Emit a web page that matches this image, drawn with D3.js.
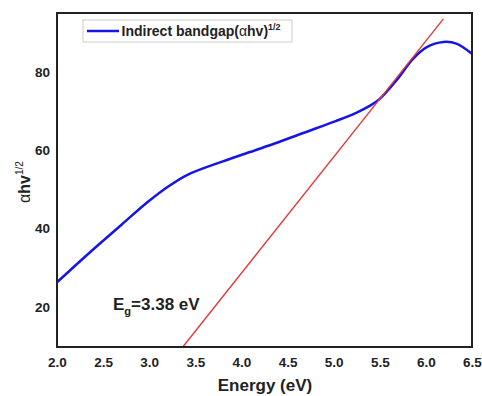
<!DOCTYPE html>
<html><head><meta charset="utf-8">
<script src="https://cdn.jsdelivr.net/npm/d3@7"></script>
<style>body{margin:0;background:#fff}svg{display:block}text{font-family:Arial,"Liberation Sans",sans-serif}</style>
</head><body><div id="c"></div>
<script>
const energy = [2.0, 2.34, 2.70, 2.99, 3.21, 3.42, 3.79, 4.15, 4.36, 4.67, 5.03, 5.25, 5.39, 5.50, 5.68, 5.86, 6.01, 6.19, 6.33, 6.5];
const alphaHv = [26.3, 33.6, 41.0, 46.9, 50.8, 53.8, 57.1, 60.0, 61.7, 64.4, 67.5, 69.6, 71.3, 73.1, 77.8, 83.3, 86.3, 87.6, 87.2, 84.6];
const fitLine = [[3.37, 10], [6.19, 93.5]];
const xTicks = [2.0, 2.5, 3.0, 3.5, 4.0, 4.5, 5.0, 5.5, 6.0, 6.5];
const yTicks = [20, 40, 60, 80];

const W = 482, H = 396;
const m = {l: 57, r: 10, t: 13, b: 49};
const svg = d3.select("#c").append("svg").attr("width", W).attr("height", H);
const x = d3.scaleLinear().domain([2.0, 6.5]).range([m.l, W - m.r]);
const y = d3.scaleLinear().domain([9.8, 95]).range([H - m.b, m.t]);

svg.append("defs").append("clipPath").attr("id", "clip")
  .append("rect").attr("x", m.l).attr("y", m.t).attr("width", W - m.r - m.l).attr("height", H - m.b - m.t);

const xa = svg.append("g").attr("transform", `translate(0,${H - m.b})`)
  .call(d3.axisBottom(x).tickValues(xTicks).tickFormat(d3.format(".1f")).tickSize(0).tickPadding(10));
const ya = svg.append("g").attr("transform", `translate(${m.l},0)`)
  .call(d3.axisLeft(y).tickValues(yTicks).tickSize(0).tickPadding(7));
[xa, ya].forEach(g => {
  g.select(".domain").remove();
  g.selectAll("text").attr("font-size", 13.5).attr("font-weight", "bold").attr("fill", "#222")
   .attr("font-family", "Arial, 'Liberation Sans', sans-serif");
});

const g = svg.append("g").attr("clip-path", "url(#clip)");
const data = energy.map((e, i) => [e, alphaHv[i]]);
g.append("path").datum(data)
  .attr("d", d3.line().x(d => x(d[0])).y(d => y(d[1])).curve(d3.curveCatmullRom.alpha(0.5)))
  .attr("fill", "none").attr("stroke", "#1515e6").attr("stroke-width", 2.5);
g.append("path").datum(fitLine)
  .attr("d", d3.line().x(d => x(d[0])).y(d => y(d[1])))
  .attr("fill", "none").attr("stroke", "#e23a3a").attr("stroke-width", 1.4);

svg.append("rect").attr("x", m.l).attr("y", m.t).attr("width", W - m.r - m.l).attr("height", H - m.b - m.t)
  .attr("fill", "none").attr("stroke", "#222").attr("stroke-width", 2);

svg.append("rect").attr("x", 83).attr("y", 20).attr("width", 209).attr("height", 22)
  .attr("fill", "#fff").attr("stroke", "#ccc").attr("stroke-width", 1);
svg.append("line").attr("x1", 87).attr("x2", 119).attr("y1", 31).attr("y2", 31)
  .attr("stroke", "#1515e6").attr("stroke-width", 2.5);
const lt = svg.append("text").attr("x", 121.5).attr("y", 36).attr("font-size", 14).attr("font-weight", "bold").attr("fill", "#222");
lt.append("tspan").text("Indirect bandgap(");
lt.append("tspan").attr("font-weight", "normal").text("α");
lt.append("tspan").text("hv)");
lt.append("tspan").attr("font-size", 9).attr("dy", -6).text("1/2");

const an = svg.append("text").attr("x", 113).attr("y", 310).attr("font-size", 17).attr("font-weight", "bold").attr("fill", "#222");
an.append("tspan").text("E");
an.append("tspan").attr("font-size", 11).attr("dy", 5).text("g");
an.append("tspan").attr("dy", -5).text("=3.38 eV");

svg.append("text").attr("x", 265).attr("y", 391).attr("text-anchor", "middle")
  .attr("font-size", 17).attr("font-weight", "bold").attr("fill", "#222").text("Energy (eV)");
const yl = svg.append("text").attr("transform", `translate(30,${(m.t + H - m.b) / 2 + 2}) rotate(-90)`)
  .attr("text-anchor", "middle").attr("font-size", 16).attr("fill", "#222");
yl.append("tspan").text("α");
yl.append("tspan").attr("font-weight", "bold").text("hv");
yl.append("tspan").attr("font-size", 10).attr("dy", -7).text("1/2");
</script></body></html>
